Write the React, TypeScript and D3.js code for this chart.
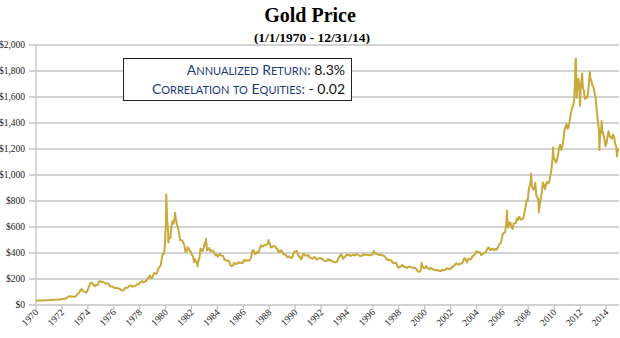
import React from "react";
import * as d3 from "d3";

const years1970s = [
  [34.9, 35.0, 35.1, 35.6, 35.5, 35.4, 35.3, 35.4, 36.2, 37.5, 37.4, 37.4],
  [37.9, 38.7, 38.9, 39.0, 40.5, 40.1, 41.0, 42.7, 42.0, 42.5, 42.9, 43.5],
  [45.8, 48.3, 48.3, 49.0, 54.6, 62.1, 65.7, 67.0, 65.5, 64.9, 62.9, 63.9],
  [65.1, 74.2, 84.4, 90.5, 102.0, 120.1, 120.2, 106.8, 103.0, 100.1, 94.8, 106.7],
  [129.2, 150.2, 168.4, 172.2, 163.3, 154.1, 143.0, 154.6, 151.8, 158.8, 181.7, 183.8],
  [176.3, 179.6, 178.0, 170.1, 167.3, 164.2, 165.1, 163.2, 144.1, 142.8, 142.8, 139.3],
  [131.6, 131.0, 132.6, 128.2, 126.0, 125.5, 118.1, 109.9, 114.1, 116.0, 130.3, 133.5],
  [132.3, 136.3, 148.2, 149.1, 146.6, 140.8, 143.4, 144.8, 149.2, 158.9, 162.1, 160.4],
  [173.2, 178.2, 183.7, 175.2, 176.3, 183.1, 188.6, 206.1, 212.4, 227.3, 206.0, 207.8],
  [227.3, 245.7, 242.1, 239.2, 257.1, 279.1, 294.7, 300.8, 355.1, 391.7, 392.5, 455.1],
];
const years1980s = [
  [675.3, 665.3, 553.6, 517.4, 513.8, 600.7, 644.3, 626.5, 673.6, 661.2, 623.5, 594.9],
  [557.6, 499.8, 498.3, 495.8, 479.7, 460.9, 409.3, 411.1, 443.7, 437.1, 413.3, 410.1],
  [384.0, 374.2, 330.2, 350.5, 333.9, 314.9, 339.5, 364.3, 435.3, 422.1, 415.1, 444.2],
  [481.3, 491.4, 419.3, 432.3, 438.0, 413.0, 422.7, 416.2, 411.7, 394.1, 381.6, 388.0],
  [370.6, 385.2, 394.5, 381.3, 377.3, 377.7, 347.7, 347.7, 341.1, 340.2, 341.2, 320.2],
  [303.0, 298.6, 303.7, 324.7, 316.1, 316.8, 317.6, 329.4, 323.3, 325.8, 325.3, 321.7],
  [345.4, 338.9, 345.7, 340.4, 342.4, 342.6, 348.5, 376.5, 417.7, 423.4, 396.4, 391.3],
  [408.3, 401.2, 408.4, 438.5, 460.1, 449.6, 450.1, 460.8, 460.1, 465.4, 467.2, 486.3],
  [477.2, 441.9, 443.2, 451.2, 451.3, 452.0, 437.7, 431.4, 413.6, 406.6, 420.2, 419.0],
  [404.0, 387.9, 390.2, 384.3, 371.0, 367.6, 375.0, 365.4, 362.0, 366.7, 394.3, 409.4],
];
const years1990s = [
  [410.1, 416.9, 393.1, 374.3, 369.1, 352.3, 362.5, 394.7, 389.3, 380.8, 381.4, 378.2],
  [383.6, 363.8, 363.3, 358.4, 356.8, 366.7, 367.7, 356.3, 348.7, 358.7, 359.7, 361.8],
  [354.5, 354.0, 344.4, 338.6, 337.2, 340.8, 353.1, 342.6, 345.4, 344.4, 335.0, 334.8],
  [329.0, 329.3, 330.1, 342.2, 367.2, 371.9, 392.0, 378.9, 355.3, 364.2, 373.6, 383.3],
  [387.0, 382.0, 383.9, 377.3, 381.4, 385.6, 385.5, 380.4, 391.6, 389.8, 384.4, 379.3],
  [378.6, 376.5, 382.1, 391.0, 385.2, 387.6, 386.2, 383.7, 383.1, 383.0, 385.9, 387.0],
  [400.0, 404.8, 396.2, 392.9, 391.9, 385.3, 383.5, 387.5, 383.1, 381.1, 377.9, 369.2],
  [355.0, 346.6, 351.8, 344.5, 343.8, 340.8, 324.1, 324.0, 322.8, 324.9, 306.0, 288.7],
  [289.1, 297.5, 295.9, 308.4, 299.1, 292.3, 292.9, 284.1, 288.8, 296.0, 294.1, 291.6],
  [287.1, 287.3, 285.9, 282.6, 276.4, 261.3, 256.1, 256.7, 264.7, 310.7, 293.2, 283.1],
];
const years2000s = [
  [284.3, 299.9, 286.4, 279.7, 275.2, 285.7, 281.6, 274.5, 273.7, 270.0, 266.0, 271.5],
  [265.5, 261.9, 263.0, 260.5, 272.4, 270.2, 267.5, 272.4, 283.4, 283.1, 276.2, 275.9],
  [281.7, 295.5, 294.0, 302.7, 314.5, 321.2, 313.3, 310.3, 319.2, 316.6, 319.2, 333.4],
  [356.9, 359.0, 340.6, 328.2, 355.7, 356.4, 351.0, 359.8, 378.9, 378.9, 389.9, 407.6],
  [414.0, 405.3, 406.7, 403.0, 383.8, 392.4, 398.1, 400.5, 405.3, 420.5, 439.4, 441.8],
  [424.2, 423.4, 434.2, 429.2, 421.9, 430.7, 424.5, 437.9, 456.1, 469.9, 476.7, 509.8],
  [549.9, 555.0, 557.1, 610.7, 676.5, 596.2, 633.8, 632.6, 598.2, 585.8, 627.8, 629.8],
  [631.2, 664.8, 654.9, 679.4, 666.9, 655.5, 665.3, 665.4, 712.7, 754.6, 806.3, 803.2],
  [889.6, 922.3, 968.4, 909.7, 888.7, 889.5, 939.8, 839.0, 829.9, 806.6, 760.9, 816.1],
  [858.7, 943.2, 924.3, 890.2, 928.6, 945.7, 934.2, 949.4, 996.6, 1043.2, 1127.0, 1134.7],
];
const years2010s = [
  [1117.9, 1095.4, 1113.3, 1148.7, 1205.4, 1232.9, 1192.9, 1215.8, 1270.9, 1342.0, 1369.9, 1391.0],
  [1356.4, 1372.7, 1424.0, 1473.8, 1510.4, 1528.7, 1572.8, 1755.8, 1771.9, 1665.2, 1738.9, 1652.3],
  [1656.1, 1742.6, 1673.8, 1649.7, 1585.5, 1596.7, 1594.3, 1630.3, 1744.5, 1746.6, 1721.6, 1688.5],
  [1671.9, 1627.6, 1592.9, 1485.1, 1414.0, 1342.4, 1286.7, 1347.1, 1348.7, 1316.2, 1275.8, 1221.5],
  [1244.3, 1300.0, 1336.1, 1298.5, 1288.7, 1279.1, 1310.6, 1295.9, 1238.8, 1222.5, 1175.3, 1200.6],
];

// Notable daily extremes
const spikeDates = [
  "1980-01-21", "1980-03-18", "1980-09-25", "1982-06-21", "1983-02-15", "1987-12-14",
  "1996-02-02", "1999-10-05", "2006-05-12", "2008-03-17", "2008-10-24", "2009-12-02",
  "2011-08-22", "2011-09-05", "2011-09-26", "2011-12-29", "2012-02-28", "2012-10-04",
  "2013-06-28", "2013-08-28", "2014-11-05", "2014-12-31",
];
const spikeValues = [
  850, 480, 710, 297, 509, 499,
  415, 325, 725, 1011, 712, 1212,
  1877, 1895, 1595, 1531, 1781, 1792,
  1192, 1415, 1142, 1199,
];

const yTicks = [0, 200, 400, 600, 800, 1000, 1200, 1400, 1600, 1800, 2000];
const xTickYears = d3.range(1970, 2015, 2);

const W = 620;
const H = 338;

export default function App() {
  const x = d3
    .scaleTime()
    .domain([new Date(1970, 0, 1), new Date(2015, 0, 1)])
    .range([36, 619]);
  const y = d3.scaleLinear().domain([0, 2000]).range([305, 45]);

  const pts: { d: Date; v: number }[] = [];
  const decades = [
    [1970, years1970s],
    [1980, years1980s],
    [1990, years1990s],
    [2000, years2000s],
    [2010, years2010s],
  ] as [number, number[][]][];
  decades.forEach(([start, ys]) => {
    ys.forEach((months, yi) => {
      months.forEach((v, mi) => {
        pts.push({ d: new Date(start + yi, mi, 15), v });
      });
    });
  });
  spikeDates.forEach((s, i) => {
    const [yy, mm, dd] = s.split("-").map(Number);
    pts.push({ d: new Date(yy, mm - 1, dd), v: spikeValues[i] });
  });
  pts.unshift({ d: new Date(1970, 0, 1), v: 35.0 });
  pts.sort((a, b) => +a.d - +b.d);

  const line = d3
    .line<{ d: Date; v: number }>()
    .x((p) => x(p.d))
    .y((p) => y(p.v));

  const fmt = d3.format(",");
  const blue = "#1C3A78";
  const big = 14;
  const small = 11;
  const sc = (word: string, key: string) => {
    const first = word[0];
    const isCap = first === first.toUpperCase();
    return [
      <tspan key={key + "a"} fontSize={isCap ? big : small}>{first.toUpperCase()}</tspan>,
      <tspan key={key + "b"} fontSize={small}>{word.slice(1).toUpperCase()}</tspan>,
    ];
  };

  return (
    <svg width={W} height={H} style={{ position: "absolute", left: 0, top: 0 }}>
      <rect width={W} height={H} fill="#fff" />
      <text x={310} y={22} textAnchor="middle" fontFamily="'Liberation Serif', serif" fontWeight="bold" fontSize={20}>
        Gold Price
      </text>
      <text x={312} y={42} textAnchor="middle" fontFamily="'Liberation Serif', serif" fontWeight="bold" fontSize={13.5}>
        (1/1/1970 - 12/31/14)
      </text>

      {yTicks.map((t) => (
        <g key={t}>
          <line x1={29} x2={619} y1={y(t)} y2={y(t)} stroke="#C4C4C4" strokeWidth={1.3} />
          <text x={25} y={y(t) + 3} textAnchor="end" fontFamily="'Liberation Serif', serif" fontSize={9.5} fill="#222">
            ${fmt(t)}
          </text>
        </g>
      ))}
      <line x1={36} x2={36} y1={45} y2={305} stroke="#C4C4C4" strokeWidth={1.3} />
      {xTickYears.map((yr) => {
        const xx = x(new Date(yr, 0, 1));
        return (
          <g key={yr}>
            <line x1={xx} x2={xx} y1={305} y2={310} stroke="#C4C4C4" strokeWidth={1.3} />
            <text
              transform={`translate(${xx + 3},${313}) rotate(-45)`}
              textAnchor="end"
              fontFamily="'Liberation Serif', serif"
              fontSize={9.5}
              fill="#222"
            >
              {yr}
            </text>
          </g>
        );
      })}

      <path d={line(pts) || ""} fill="none" stroke="#C9A93A" strokeWidth={2} strokeLinejoin="round" />

      <rect x={123.5} y={58.5} width={228} height={42} fill="#fff" stroke="#222" strokeWidth={1} />
      <text x={345} y={75} textAnchor="end" fontFamily="Lato, 'Noto Sans', sans-serif" fill={blue}>
        {sc("Annualized", "a")}
        <tspan fontSize={big}> </tspan>
        {sc("Return", "b")}
        <tspan fontSize={big}>: </tspan>
        <tspan fontSize={big} fill="#111">8.3%</tspan>
      </text>
      <text x={345} y={94} textAnchor="end" fontFamily="Lato, 'Noto Sans', sans-serif" fill={blue}>
        {sc("Correlation", "c")}
        <tspan fontSize={big}> </tspan>
        {sc("to", "d")}
        <tspan fontSize={big}> </tspan>
        {sc("Equities", "e")}
        <tspan fontSize={big}>: </tspan>
        <tspan fontSize={big} fill="#111">- 0.02</tspan>
      </text>
    </svg>
  );
}
